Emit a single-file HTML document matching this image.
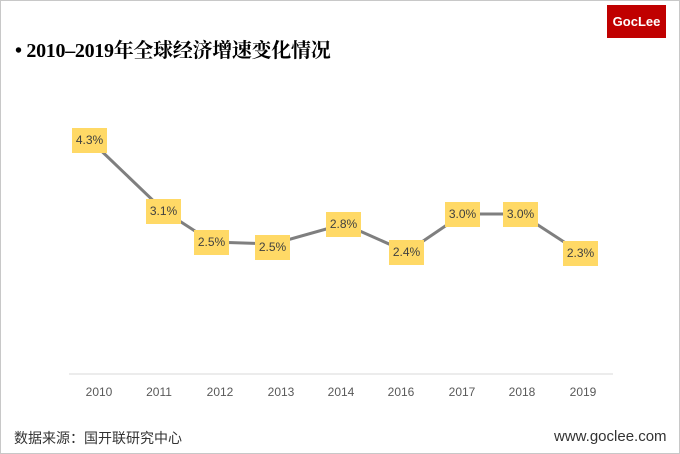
<!DOCTYPE html>
<html><head><meta charset="utf-8"><style>
body{margin:0;background:#fff}
#f{position:relative;width:678px;height:452px;border:1px solid #c8c8c8;font-family:"Liberation Sans","Noto Sans CJK SC",sans-serif;overflow:hidden}
.t{position:absolute;left:14px;top:33px;font:bold 20px "Liberation Serif","Noto Serif CJK SC",serif;color:#000;letter-spacing:-0.3px}
.logo{position:absolute;left:606px;top:4px;width:59px;height:33px;background:#c00000;color:#fff;font-weight:bold;font-size:13px;line-height:33px;text-align:center}
.b{position:absolute;width:35px;height:25px;background:#ffd966;color:#404040;font-size:12px;line-height:25px;text-align:center}
.x{position:absolute;top:384px;font-size:12px;color:#595959;width:40px;text-align:center}
.ft{position:absolute;top:427px;font-size:14px;color:#333}
</style></head><body><div id="f">
<div class="t">• 2010–2019年全球经济增速变化情况</div>
<div class="logo">GocLee</div>
<svg width="678" height="452" style="position:absolute;left:0;top:0">
<line x1="68" y1="373" x2="612" y2="373" stroke="#d9d9d9"/>
<polyline fill="none" stroke="#7f7f7f" stroke-width="3" points="89,139 163,210 211,241 272,243 343,223 406,251 462,213 520,213 580,252"/>
</svg>
<div class="b" style="left:71px;top:127px">4.3%</div>
<div class="b" style="left:145px;top:198px">3.1%</div>
<div class="b" style="left:193px;top:229px">2.5%</div>
<div class="b" style="left:254px;top:234px">2.5%</div>
<div class="b" style="left:325px;top:211px">2.8%</div>
<div class="b" style="left:388px;top:239px">2.4%</div>
<div class="b" style="left:444px;top:201px">3.0%</div>
<div class="b" style="left:502px;top:201px">3.0%</div>
<div class="b" style="left:562px;top:240px">2.3%</div>
<div class="x" style="left:78px">2010</div>
<div class="x" style="left:138px">2011</div>
<div class="x" style="left:199px">2012</div>
<div class="x" style="left:260px">2013</div>
<div class="x" style="left:320px">2014</div>
<div class="x" style="left:380px">2016</div>
<div class="x" style="left:441px">2017</div>
<div class="x" style="left:501px">2018</div>
<div class="x" style="left:562px">2019</div>
<div class="ft" style="left:13px">数据来源：国开联研究中心</div>
<div class="ft" style="left:553px;font-size:15px">www.goclee.com</div>
</div></body></html>
